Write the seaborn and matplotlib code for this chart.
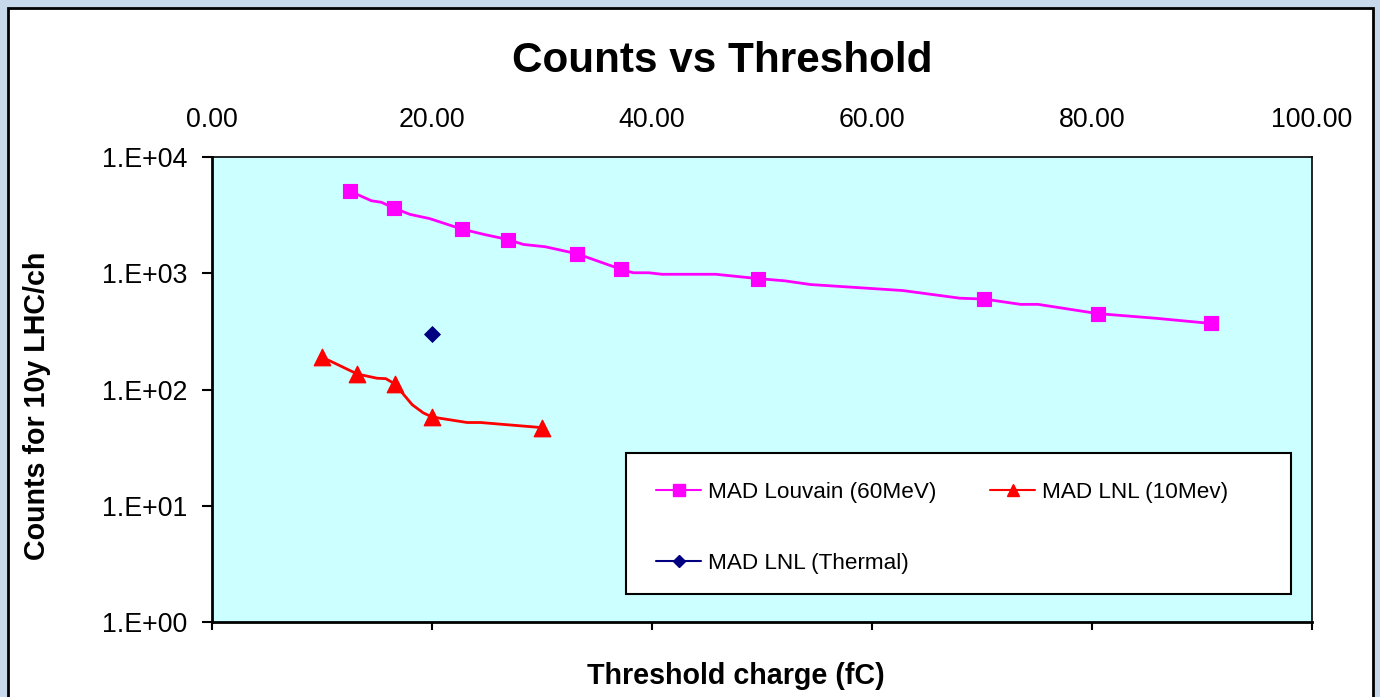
import numpy as np
import pandas as pd
import matplotlib
matplotlib.use("Agg")
import matplotlib.pyplot as plt
from matplotlib.lines import Line2D
from matplotlib.patches import Rectangle
from matplotlib.ticker import NullLocator
import seaborn as sns

# --- data ---
# MAD Louvain (60MeV): measured points (markers)
louvain_x = [12.5, 16.5, 22.7, 26.9, 33.2, 37.2, 49.6, 70.2, 80.5, 90.8]
louvain_y = [5100, 3650, 2400, 1950, 1470, 1080, 900, 600, 450, 370]
# the drawn curve also bends at a few unmarked vertices
louvain_line_x = [12.5, 14.5, 15.4, 16.5, 18.0, 19.8, 22.7, 24.8, 26.9, 28.3, 30.3,
                  33.2, 37.2, 38.3, 39.7, 40.9, 45.8, 49.6, 52.1, 54.4, 62.8, 68.0,
                  70.2, 73.5, 75.1, 80.5, 85.8, 90.8]
louvain_line_y = [5100, 4200, 4080, 3650, 3210, 2950, 2400, 2150, 1950, 1770, 1690,
                  1470, 1080, 1010, 1010, 980, 980, 900, 860, 800, 710, 610,
                  600, 540, 540, 450, 410, 370]

# MAD LNL (10Mev)
lnl10_x = [10.0, 13.2, 16.6, 20.0, 30.0]
lnl10_y = [190, 136, 112, 58, 47]
lnl10_line_x = [10.0, 13.2, 15.0, 15.8, 16.6, 18.2, 19.2, 20.0, 23.2, 24.4, 30.0]
lnl10_line_y = [190, 136, 125, 124, 112, 74, 63, 58, 52, 52, 47]

# MAD LNL (Thermal)
thermal_x = [20.0]
thermal_y = [300]

x_ticks = [0, 20, 40, 60, 80, 100]
x_tick_labels = ["0.00", "20.00", "40.00", "60.00", "80.00", "100.00"]
y_ticks = [1, 10, 100, 1000, 10000]
y_tick_labels = ["1.E+00", "1.E+01", "1.E+02", "1.E+03", "1.E+04"]

# --- plot ---
sns.set_style("white")
plt.rcParams["font.family"] = ["Liberation Sans", "DejaVu Sans"]
plt.rcParams["text.color"] = "black"
plt.rcParams["xtick.color"] = "black"
plt.rcParams["ytick.color"] = "black"

fig = plt.figure(figsize=(13.8, 6.97), dpi=100, facecolor="#c9d9ec")
# white card behind the chart
card = Rectangle((8 / 1380, -0.05), 1365 / 1380, 1 - 8 / 697 + 0.05,
                 transform=fig.transFigure, facecolor="white",
                 edgecolor="black", linewidth=2, zorder=-10)
fig.patches.append(card)

ax = fig.add_axes([212 / 1380, 75 / 697, 1100 / 1380, 465 / 697])
ax.set_zorder(1)
ax.set_facecolor("#ccffff")
ax.set_yscale("log")

pink, red, navy = "#ff00ff", "#ff0000", "#000080"

sns.lineplot(x=louvain_line_x, y=louvain_line_y, color=pink, lw=2.0,
             estimator=None, ax=ax)
sns.scatterplot(x=louvain_x, y=louvain_y, color=pink, marker="s", s=105,
                edgecolor=pink, ax=ax, zorder=3)
sns.lineplot(x=lnl10_line_x, y=lnl10_line_y, color=red, lw=2.0,
             estimator=None, ax=ax)
sns.scatterplot(x=lnl10_x, y=lnl10_y, color=red, marker="^", s=140,
                edgecolor=red, ax=ax, zorder=3)
sns.scatterplot(x=thermal_x, y=thermal_y, color=navy, marker="D", s=65,
                edgecolor=navy, ax=ax, zorder=3)

ax.set_xlim(0, 100)
ax.set_ylim(1, 10000)
ax.set_xticks(x_ticks)
ax.set_xticklabels(x_tick_labels)
ax.set_yticks(y_ticks)
ax.set_yticklabels(y_tick_labels)
ax.yaxis.set_minor_locator(NullLocator())
ax.xaxis.set_minor_locator(NullLocator())

ax.tick_params(axis="x", bottom=True, top=False, labelbottom=False, labeltop=True,
               direction="out", length=5.8, width=1.5, pad=11.8, labelsize=19.3)
ax.tick_params(axis="y", left=True, direction="out", length=7.2, width=1.5,
               pad=10.8, labelsize=19.3)

for side in ["left", "bottom"]:
    ax.spines[side].set_linewidth(2)
for side in ["top", "right"]:
    ax.spines[side].set_linewidth(1.2)
for s in ax.spines.values():
    s.set_color("black")

fig.text(722 / 1380, 1 - 61 / 697, "Counts vs Threshold", ha="center", va="center",
         fontsize=30.4, fontweight="bold")
fig.text(736 / 1380, 1 - 676 / 697, "Threshold charge (fC)", ha="center", va="center",
         fontsize=20.6, fontweight="bold")
fig.text(37 / 1380, 1 - 406 / 697, "Counts for 10y LHC/ch", ha="center", va="center",
         rotation=90, fontsize=20.6, fontweight="bold")

# legend box
ax.add_patch(Rectangle(((626 - 212) / 1100, (622 - 594) / 465), 665 / 1100, 141 / 465,
                       transform=ax.transAxes, facecolor="white", edgecolor="black",
                       linewidth=1.5, zorder=4))
handles = [
    Line2D([], [], color=pink, marker="s", markersize=8, lw=1.5),
    Line2D([], [], color=navy, marker="D", markersize=6, lw=1.5),
    Line2D([], [], color=red, marker="^", markersize=9, lw=1.5),
]
labels = ["MAD Louvain (60MeV)", "MAD LNL (Thermal)", "MAD LNL (10Mev)"]
leg = ax.legend(handles, labels, ncol=2, loc="upper left",
                bbox_to_anchor=((656 - 212) / 1100, (622 - 482) / 465),
                frameon=False, borderpad=0, borderaxespad=0, fontsize=16.2,
                handlelength=2.0, handletextpad=0.3, columnspacing=2.4,
                labelspacing=2.2)
leg.set_zorder(5)

fig.savefig("out.png", dpi=100, facecolor=fig.get_facecolor())
